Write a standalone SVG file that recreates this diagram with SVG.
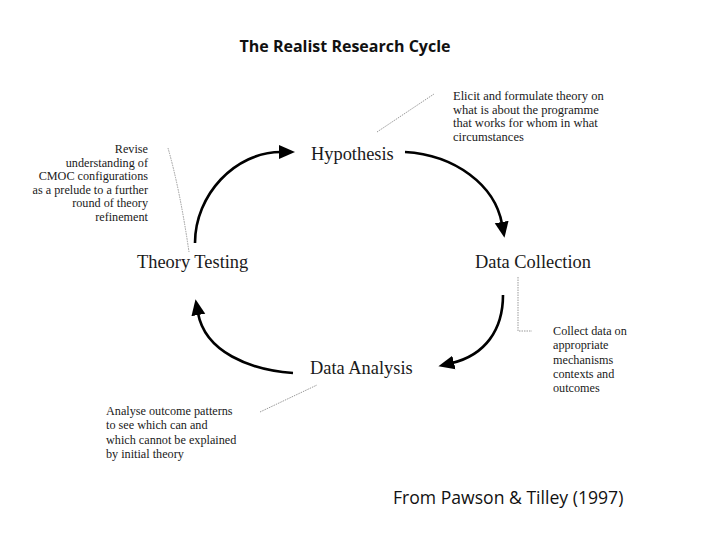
<svg xmlns="http://www.w3.org/2000/svg" width="720" height="540" viewBox="0 0 720 540">
<style>
.node{font-family:"Liberation Serif","Times New Roman",serif;font-size:18.4px;fill:#1a1a1a}
.note{font-family:"Liberation Serif","Times New Roman",serif;font-size:12.2px;fill:#1a1a1a}
.arc{fill:none;stroke:#000;stroke-width:2.6}
.lead{fill:none;stroke:#999;stroke-width:1;stroke-dasharray:1.5 1}
</style>
<defs>
<marker id="ah" markerUnits="userSpaceOnUse" markerWidth="16" markerHeight="16" refX="2" refY="8" orient="auto">
<path d="M0,1 L16,8 L0,15 Z" fill="#000"/>
</marker>
</defs>
<rect width="720" height="540" fill="#fff"/>
<text x="345" y="52" text-anchor="middle" font-family="'Open Sans','Liberation Sans',sans-serif" font-weight="bold" font-size="16" fill="#111">The Realist Research Cycle</text>

<g id="connectors">
<path class="arc" d="M195,243 C195,195 235,152 281,152" marker-end="url(#ah)"/>
<path class="arc" d="M405,152 C455,155 495,185 502,224" marker-end="url(#ah)"/>
<path class="arc" d="M503,295 C503,330 485,355 452,363" marker-end="url(#ah)"/>
<path class="arc" d="M293,373 C250,370 205,352 198,313" marker-end="url(#ah)"/>
<path class="lead" d="M377,132 L434,94"/>
<path class="lead" d="M168,148 Q180,190 189,252"/>
<path class="lead" d="M518,277 L518,331 L532,331"/>
<path class="lead" d="M260,412 L317,385"/>
</g>

<g id="hypothesis"><text class="node" x="311" y="160">Hypothesis</text></g>
<g id="data-collection"><text class="node" x="475" y="268">Data Collection</text></g>
<g id="data-analysis"><text class="node" x="310" y="374">Data Analysis</text></g>
<g id="theory-testing"><text class="node" x="137" y="268">Theory Testing</text></g>

<g id="note-hypothesis" font-size="12.5">
<text class="note" style="font-size:12.5px" x="453" y="100">Elicit and formulate theory on</text>
<text class="note" style="font-size:12.5px" x="453" y="113.5">what is about the programme</text>
<text class="note" style="font-size:12.5px" x="453" y="127">that works for whom in what</text>
<text class="note" style="font-size:12.5px" x="453" y="140.5">circumstances</text>
</g>
<g id="note-theory-testing" text-anchor="end">
<text class="note" x="148" y="153">Revise</text>
<text class="note" x="148" y="166.5">understanding of</text>
<text class="note" x="148" y="180">CMOC configurations</text>
<text class="note" x="148" y="193.5">as a prelude to a further</text>
<text class="note" x="148" y="207">round of theory</text>
<text class="note" x="148" y="220.5">refinement</text>
</g>
<g id="note-data-collection">
<text class="note" x="553" y="335">Collect data on</text>
<text class="note" x="553" y="349">appropriate</text>
<text class="note" x="553" y="363.5">mechanisms</text>
<text class="note" x="553" y="378">contexts and</text>
<text class="note" x="553" y="392">outcomes</text>
</g>
<g id="note-data-analysis">
<text class="note" x="106" y="415">Analyse outcome patterns</text>
<text class="note" x="106" y="429">to see which can and</text>
<text class="note" x="106" y="443.5">which cannot be explained</text>
<text class="note" x="106" y="458">by initial theory</text>
</g>

<text x="393" y="504" font-family="'Open Sans','Liberation Sans',sans-serif" font-size="17.6" fill="#111">From Pawson &amp; Tilley (1997)</text>
</svg>
